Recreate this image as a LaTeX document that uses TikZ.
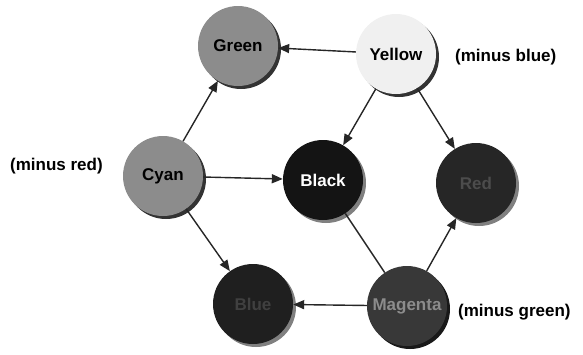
\documentclass[tikz,border=0pt]{standalone}
\usepackage{fontspec}
\setmainfont{Liberation Sans}
\usetikzlibrary{arrows.meta}
\begin{document}
\begin{tikzpicture}[x=1pt,y=-1pt,
  ball/.style={circle, minimum size=80pt, inner sep=0pt, font=\bfseries\fontsize{17}{19}\selectfont},
  shad/.style={fill=#1},
  arr/.style={-{Triangle[length=11pt,width=9pt]}, line width=1.4pt, black!85},
  lnk/.style={line width=1.4pt, black!85},
  note/.style={font=\bfseries\fontsize{17}{19}\selectfont, inner sep=0pt}]
\useasboundingbox (0,0) rectangle (583,354);
% drop shadows
\fill[shad=black!80] (241,49) circle (40);
\fill[shad=black!80] (399,57) circle (40);
\fill[shad=black!80] (166,179) circle (40);
\fill[shad=black!50] (326,183) circle (40);
\fill[shad=black!50] (479,186) circle (40);
\fill[shad=black!50] (256,307) circle (40);
\fill[shad=black!90] (410,309) circle (40);
\node[ball, fill=black!45] (green) at (238,46) {Green};
\node[ball, fill=black!6] (yellow) at (396,54) {Yellow};
\node[ball, fill=black!45] (cyan) at (163,176) {Cyan};
\node[ball, fill=black!92, text=white] (black) at (323,180) {Black};
\node[ball, fill=black!85, text=black!70] (red) at (476,183) {Red};
\node[ball, fill=black!88, text=black!75] (blue) at (253,304) {Blue};
\node[ball, fill=black!78, text=black!45] (magenta) at (407,306) {Magenta};
\draw[arr] (yellow) -- (green);
\draw[arr] (yellow) -- (black);
\draw[arr] (yellow) -- (red);
\draw[arr] (cyan) -- (green);
\draw[arr] (cyan) -- (black);
\draw[arr] (cyan) -- (blue);
\draw[arr] (magenta) -- (blue);
\draw[arr] (magenta) -- (red);
\draw[lnk] (magenta) -- (black);
\node[note, anchor=west] (nb) at (455,57) {(minus blue)};
\node[note, anchor=west] (nr) at (10,166) {(minus red)};
\node[note, anchor=west] (ng) at (458,312) {(minus green)};
\end{tikzpicture}
\end{document}
